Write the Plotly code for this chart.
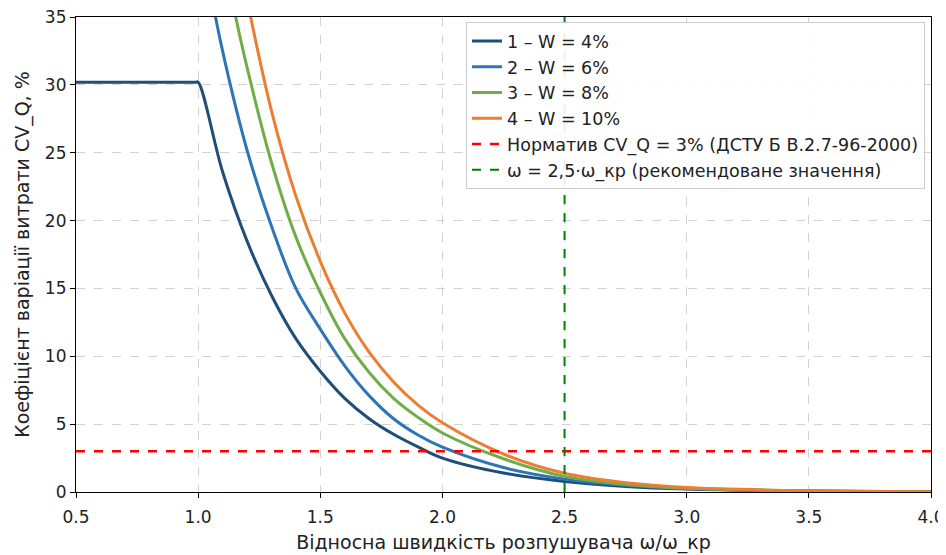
import plotly.graph_objects as go

# Curve 1: W = 4%
x1 = [0.5, 0.99, 1.0, 1.1, 1.2, 1.3, 1.4, 1.5, 1.6, 1.7, 1.8, 1.9, 2.0, 2.25, 2.5, 2.75, 3.0, 3.5, 4.0]
y1 = [30.2, 30.2, 30.2, 23.6, 18.5, 14.5, 11.3, 8.9, 6.9, 5.4, 4.25, 3.32, 2.5, 1.4, 0.77, 0.41, 0.22, 0.066, 0.02]
# Curve 2: W = 6%
x2 = [1.05, 1.1, 1.2, 1.3, 1.4, 1.5, 1.6, 1.7, 1.8, 1.9, 2.0, 2.25, 2.5, 2.75, 3.0, 3.5, 4.0]
y2 = [37.0, 32.5, 25.2, 19.6, 15.0, 12.0, 9.3, 7.1, 5.4, 4.2, 3.3, 1.8, 0.95, 0.49, 0.26, 0.073, 0.02]
# Curve 3: W = 8%
x3 = [1.15, 1.2, 1.3, 1.4, 1.5, 1.6, 1.7, 1.8, 1.9, 2.0, 2.25, 2.5, 2.75, 3.0, 3.5, 4.0]
y3 = [35.3, 31.3, 24.3, 18.8, 14.7, 11.3, 8.8, 6.9, 5.5, 4.35, 2.45, 1.15, 0.55, 0.27, 0.08, 0.025]
# Curve 4: W = 10%
x4 = [1.2, 1.3, 1.4, 1.5, 1.6, 1.7, 1.8, 1.9, 2.0, 2.25, 2.5, 2.75, 3.0, 3.5, 4.0]
y4 = [36.3, 28.1, 21.8, 17.0, 13.2, 10.3, 8.1, 6.4, 5.1, 2.8, 1.38, 0.68, 0.33, 0.09, 0.025]

norm_x = [0.5, 4.0]
norm_y = [3, 3]
rec_x = [2.5, 2.5]
rec_y = [0, 35]

names = ["1 – W = 4%", "2 – W = 6%", "3 – W = 8%", "4 – W = 10%"]
colors = ["#1f4e79", "#2e75b6", "#70ad47", "#ed7d31"]

fig = go.Figure()
for xs, ys, nm, c in zip([x1, x2, x3, x4], [y1, y2, y3, y4], names, colors):
    fig.add_trace(go.Scatter(x=xs, y=ys, mode="lines", name=nm,
                             line=dict(color=c, width=3, shape="spline", smoothing=1)))

fig.add_trace(go.Scatter(x=norm_x, y=norm_y, mode="lines",
                         name="Норматив CV_Q = 3% (ДСТУ Б В.2.7-96-2000)",
                         line=dict(color="#ff0000", width=2.5, dash="dash")))
fig.add_trace(go.Scatter(x=rec_x, y=rec_y, mode="lines",
                         name="ω = 2,5·ω_кр (рекомендоване значення)",
                         line=dict(color="#008000", width=2, dash="dash")))

axis_common = dict(
    showline=True, linecolor="black", linewidth=1.2, mirror=True,
    ticks="outside", ticklen=5, tickcolor="black",
    showgrid=True, gridcolor="rgba(180,180,180,0.6)", griddash="dash", gridwidth=1,
    zeroline=False, tickfont=dict(size=17, color="#222"), automargin=False,
    ticklabeloverflow="allow",
)

fig.update_layout(
    width=938, height=547,
    margin=dict(l=68, r=15, t=9, b=63),
    plot_bgcolor="white", paper_bgcolor="white",
    font=dict(family="DejaVu Sans", color="#222"),
    xaxis=dict(range=[0.5, 4.0], tickvals=[0.5, 1.0, 1.5, 2.0, 2.5, 3.0, 3.5, 4.0],
               ticktext=["0.5", "1.0", "1.5", "2.0", "2.5", "3.0", "3.5", "4.0"],
               ticklabelstandoff=4,
               title=dict(text="Відносна швидкість розпушувача ω/ω_кр", font=dict(size=19), standoff=10),
               **axis_common),
    yaxis=dict(range=[0, 35], tickvals=[0, 5, 10, 15, 20, 25, 30, 35],
               title=dict(text="Коефіцієнт варіації витрати CV_Q, %", font=dict(size=19), standoff=10),
               **axis_common),
    legend=dict(x=0.993, y=0.989, xanchor="right", yanchor="top",
                bgcolor="rgba(255,255,255,0.9)", bordercolor="#cccccc", borderwidth=1,
                font=dict(size=17.5, color="#222"), tracegroupgap=0),
    showlegend=True,
)

fig.write_html("out.html")
